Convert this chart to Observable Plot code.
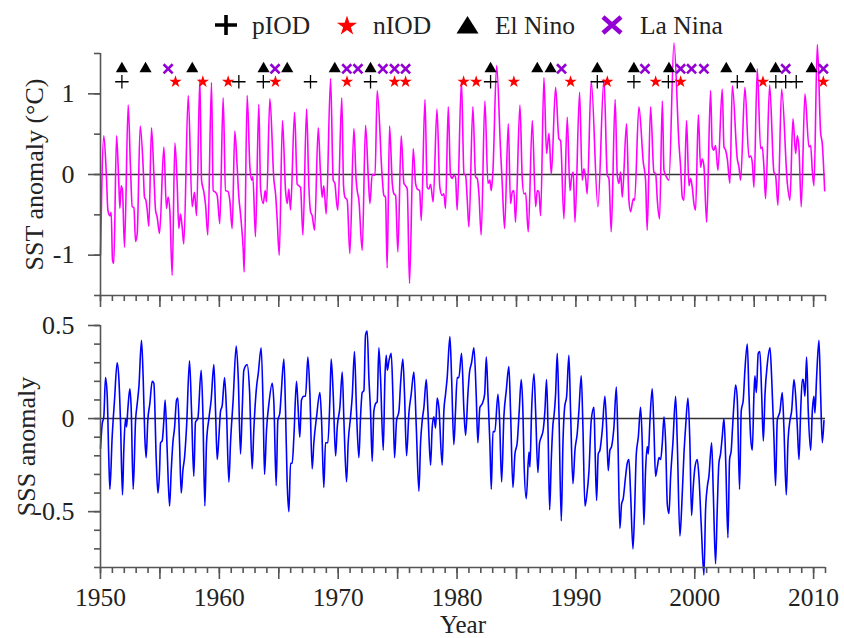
<!DOCTYPE html>
<html>
<head>
<meta charset="utf-8">
<script src="https://cdn.jsdelivr.net/npm/d3@7"></script>
<script src="https://cdn.jsdelivr.net/npm/@observablehq/plot@0.6"></script>
<style>
  html, body { margin: 0; padding: 0; background: #fff; }
  #figure { position: relative; width: 844px; height: 638px; }
  #figure > svg { position: absolute; left: 0; }
</style>
</head>
<body>
<div id="figure"></div>
<script>
// Monthly-resolution SST anomaly (°C): [decimal year, anomaly]
const sstSeries = [
  [1950.00,-1.00],[1950.28,0.48],[1950.50,-0.03],[1950.62,-0.44],[1950.79,-0.51],[1950.90,-0.47],[1951.01,-1.06],[1951.12,-1.10],
  [1951.35,0.48],[1951.54,-0.11],[1951.63,-0.42],[1951.74,-0.14],[1951.85,-0.20],[1952.02,-0.90],
  [1952.33,0.86],[1952.52,0.09],[1952.67,-0.40],[1952.81,-0.41],[1952.95,-0.83],[1953.09,-0.73],
  [1953.34,0.60],[1953.59,0.09],[1953.70,-0.28],[1953.82,-0.32],[1953.93,-0.44],[1954.07,-0.64],
  [1954.29,0.58],[1954.49,0.01],[1954.63,-0.44],[1954.77,-0.53],[1954.97,-0.73],
  [1955.33,0.34],[1955.55,-0.42],[1955.69,-0.28],[1955.84,-0.46],[1956.03,-1.25],
  [1956.26,0.39],[1956.45,-0.11],[1956.59,-0.67],[1956.73,-0.49],[1956.87,-0.65],[1957.01,-0.86],
  [1957.38,0.98],[1957.71,-0.40],[1957.91,-0.22],[1958.08,-0.51],
  [1958.36,1.18],[1958.50,-0.07],[1958.70,-0.22],[1958.84,-0.38],[1959.03,-0.75],
  [1959.34,1.14],[1959.48,-0.20],[1959.68,-0.22],[1959.82,-0.26],[1960.04,-0.61],
  [1960.32,0.95],[1960.52,-0.20],[1960.72,-0.21],[1960.88,-0.32],[1961.08,-0.67],
  [1961.30,0.54],[1961.50,0.09],[1961.64,-0.28],[1961.78,-0.49],[1962.01,-0.94],[1962.09,-1.21],
  [1962.34,0.98],[1962.57,0.09],[1962.71,-0.07],[1962.82,-0.03],[1963.04,-0.77],
  [1963.32,0.87],[1963.47,-0.18],[1963.69,-0.36],[1963.86,-0.20],[1963.97,-0.34],
  [1964.25,0.94],[1964.59,-0.07],[1964.73,-0.24],[1964.87,-0.57],[1965.04,-1.00],
  [1965.31,0.67],[1965.57,-0.20],[1965.71,-0.36],[1965.85,-0.18],[1965.99,-0.44],
  [1966.33,0.77],[1966.55,-0.12],[1966.69,-0.14],[1966.83,-0.16],[1967.03,-0.75],
  [1967.34,0.81],[1967.53,-0.14],[1967.67,-0.46],[1967.81,-0.51],[1968.01,-0.69],
  [1968.32,0.58],[1968.51,0.01],[1968.65,-0.28],[1968.79,-0.14],[1968.99,-0.49],
  [1969.36,1.19],[1969.58,-0.07],[1969.72,-0.11],[1969.86,-0.34],[1969.97,-0.44],
  [1970.30,0.95],[1970.45,-0.14],[1970.56,-0.28],[1970.76,-0.32],[1970.98,-0.98],
  [1971.32,0.57],[1971.51,-0.07],[1971.60,-0.20],[1971.74,-0.32],[1972.02,-0.94],
  [1972.30,0.61],[1972.53,-0.03],[1972.67,-0.36],[1972.86,0.00],[1973.10,-0.01],
  [1973.28,1.04],[1973.70,-0.03],[1973.84,-0.26],[1973.98,-0.28],[1974.12,-1.16],
  [1974.32,0.60],[1974.55,-0.11],[1974.69,-0.24],[1974.83,-0.26],[1975.02,-0.96],
  [1975.30,0.48],[1975.53,-0.11],[1975.67,-0.14],[1975.81,-0.18],[1976.00,-1.35],
  [1976.31,0.32],[1976.51,-0.11],[1976.65,-0.18],[1976.85,-0.20],[1976.99,-0.57],
  [1977.30,0.93],[1977.49,-0.16],[1977.63,-0.18],[1977.77,-0.12],[1977.99,-0.34],
  [1978.31,0.81],[1978.55,-0.16],[1978.75,-0.26],[1978.89,-0.24],[1979.03,-0.42],
  [1979.26,0.84],[1979.45,-0.01],[1979.59,-0.05],[1979.73,-0.01],[1979.87,-0.03],[1980.01,-0.44],
  [1980.37,1.16],[1980.58,0.01],[1980.72,-0.01],[1980.86,-0.32],[1981.00,-0.65],
  [1981.33,0.84],[1981.56,-0.03],[1981.70,-0.05],[1981.84,-0.24],[1982.03,-0.75],
  [1982.34,0.91],[1982.60,-0.11],[1982.76,-0.07],[1982.88,-0.20],[1983.02,0.05],
  [1983.33,1.35],[1983.66,0.30],[1983.80,-0.11],[1984.00,-0.67],
  [1984.31,0.63],[1984.50,-0.36],[1984.64,-0.22],[1984.78,-0.20],[1984.92,-0.59],
  [1985.29,0.86],[1985.48,-0.03],[1985.63,-0.24],[1985.77,-0.23],[1985.99,-0.71],
  [1986.33,0.67],[1986.61,-0.40],[1986.75,-0.20],[1986.89,-0.22],[1987.03,-0.51],
  [1987.31,1.20],[1987.53,0.26],[1987.73,0.51],[1987.93,0.00],
  [1988.29,1.08],[1988.57,0.44],[1988.71,0.42],[1988.99,-0.55],
  [1989.27,0.71],[1989.50,-0.20],[1989.64,-0.03],[1989.78,0.03],[1989.92,-0.59],
  [1990.31,1.02],[1990.53,-0.07],[1990.67,0.07],[1990.81,-0.03],[1990.95,-0.24],
  [1991.29,1.16],[1991.85,-0.40],
  [1992.36,1.18],[1992.64,-0.01],[1992.78,-0.05],[1992.97,-0.71],
  [1993.30,0.93],[1993.48,-0.01],[1993.62,-0.11],[1993.76,0.03],[1993.90,-0.28],
  [1994.26,0.63],[1994.46,-0.32],[1994.60,-0.46],[1994.83,-0.30],[1994.94,-0.32],
  [1995.30,0.84],[1995.67,0.15],[1995.86,-0.07],[1996.00,-0.69],
  [1996.28,0.84],[1996.56,0.03],[1996.71,0.01],[1996.85,-0.32],[1997.04,-0.55],
  [1997.27,0.91],[1997.41,0.05],[1997.55,-0.01],[1997.69,-0.05],[1997.83,-0.07],
  [1998.25,1.63],[1998.67,0.38],[1998.81,0.09],[1998.95,-0.28],[1999.09,-0.32],
  [1999.31,0.67],[1999.51,-0.14],[1999.65,-0.05],[1999.79,-0.16],[1999.93,-0.36],[2000.07,-0.44],
  [2000.30,0.74],[2000.49,0.09],[2000.63,0.19],[2000.77,0.11],[2001.00,-0.59],
  [2001.33,1.04],[2001.47,0.34],[2001.61,0.30],[2001.75,0.36],[2001.95,0.05],
  [2002.31,1.06],[2002.46,0.34],[2002.60,0.30],[2002.74,0.19],[2002.96,-0.11],
  [2003.16,1.10],[2003.58,0.19],[2003.72,0.09],[2003.86,-0.07],
  [2004.22,1.08],[2004.56,0.21],[2004.70,0.23],[2004.84,0.15],[2004.98,-0.16],
  [2005.26,1.31],[2005.54,0.32],[2005.68,0.34],[2005.82,0.09],[2005.96,-0.30],
  [2006.30,1.11],[2006.66,0.03],[2006.80,-0.01],[2007.00,-0.38],
  [2007.31,1.06],[2007.79,-0.11],[2008.01,-0.32],
  [2008.26,0.69],[2008.49,0.26],[2008.63,0.48],[2008.77,0.32],[2008.96,-0.40],
  [2009.27,1.00],[2009.61,0.34],[2009.75,0.36],[2009.89,0.05],[2010.03,-0.14],
  [2010.31,1.61],[2010.59,0.52],[2010.73,0.38],[2010.93,-0.20]
];

// Monthly-resolution SSS anomaly: [decimal year, anomaly]
const sssSeries = [
  [1950.00,-0.16],[1950.14,-0.03],[1950.28,0.01],[1950.42,0.22],[1950.56,0.13],[1950.70,-0.22],[1950.79,-0.38],
  [1950.98,-0.10],[1951.18,0.10],[1951.40,0.30],[1951.54,0.22],[1951.68,-0.01],[1951.85,-0.41],
  [1951.96,-0.17],[1952.10,0.00],[1952.19,-0.045],[1952.30,0.05],[1952.47,0.16],[1952.58,0.06],[1952.75,-0.38],
  [1952.95,-0.01],[1953.09,0.08],[1953.23,0.17],[1953.45,0.42],[1953.59,0.22],[1953.73,-0.10],[1953.84,-0.21],
  [1953.98,-0.01],[1954.15,0.08],[1954.35,0.20],[1954.49,0.19],[1954.69,-0.22],[1954.83,-0.40],
  [1954.97,-0.28],[1955.05,-0.13],[1955.19,-0.12],[1955.33,-0.01],[1955.44,0.10],[1955.61,-0.17],[1955.81,-0.47],
  [1955.95,-0.28],[1956.09,-0.13],[1956.23,-0.05],[1956.40,0.10],[1956.51,0.11],[1956.65,-0.13],[1956.79,-0.40],
  [1956.93,-0.28],[1957.07,-0.21],[1957.24,-0.045],[1957.49,0.31],[1957.66,0.04],[1957.85,-0.31],
  [1957.99,-0.02],[1958.19,0.00],[1958.47,0.26],[1958.61,0.04],[1958.78,-0.47],
  [1958.92,-0.13],[1959.12,0.00],[1959.31,0.10],[1959.54,0.29],[1959.68,0.04],[1959.82,-0.22],
  [1959.96,-0.10],[1960.10,0.04],[1960.24,0.07],[1960.44,0.22],[1960.60,0.04],[1960.80,-0.34],
  [1960.94,-0.13],[1961.16,0.10],[1961.42,0.39],[1961.59,0.22],[1961.78,-0.19],
  [1961.92,0.04],[1962.06,0.26],[1962.34,0.29],[1962.54,0.15],[1962.76,-0.27],
  [1962.90,-0.06],[1963.13,0.17],[1963.27,0.24],[1963.52,0.38],[1963.69,0.04],[1963.80,-0.30],
  [1963.97,-0.06],[1964.17,0.08],[1964.45,0.19],[1964.59,0.08],[1964.78,-0.36],
  [1964.92,-0.01],[1965.09,0.03],[1965.20,0.13],[1965.43,0.32],[1965.57,0.04],[1965.71,-0.35],[1965.85,-0.50],
  [1965.99,-0.24],[1966.13,-0.24],[1966.27,-0.10],[1966.49,0.20],[1966.61,0.08],[1966.77,-0.10],
  [1966.91,0.10],[1967.11,0.12],[1967.25,0.12],[1967.45,0.33],[1967.62,0.13],[1967.81,-0.27],
  [1967.95,-0.13],[1968.18,0.01],[1968.46,0.14],[1968.60,-0.01],[1968.79,-0.37],
  [1968.93,-0.13],[1969.13,-0.13],[1969.30,0.10],[1969.41,0.32],[1969.58,0.13],[1969.78,-0.20],
  [1969.92,-0.045],[1970.14,0.06],[1970.34,0.25],[1970.48,-0.01],[1970.70,-0.34],
  [1970.84,-0.13],[1971.04,0.01],[1971.18,0.12],[1971.37,0.36],[1971.54,0.04],[1971.74,-0.21],
  [1971.88,0.01],[1972.02,0.14],[1972.16,0.15],[1972.30,0.45],[1972.44,0.47],[1972.58,0.22],[1972.72,0.04],[1972.86,-0.23],
  [1973.00,0.04],[1973.14,0.08],[1973.28,0.09],[1973.42,0.38],[1973.56,0.22],[1973.79,-0.17],
  [1973.93,0.22],[1974.04,0.34],[1974.13,0.26],[1974.27,0.31],[1974.46,0.35],[1974.60,0.13],[1974.74,-0.21],
  [1974.91,-0.01],[1975.11,0.04],[1975.25,0.19],[1975.44,0.32],[1975.58,0.13],[1975.75,-0.20],
  [1975.95,0.03],[1976.14,0.13],[1976.37,0.25],[1976.57,-0.045],[1976.79,-0.39],
  [1976.93,-0.13],[1977.07,-0.01],[1977.21,0.06],[1977.41,0.21],[1977.55,0.04],[1977.77,-0.25],
  [1977.91,-0.045],[1978.05,0.01],[1978.19,-0.05],[1978.33,0.11],[1978.47,0.06],[1978.75,-0.25],
  [1978.89,0.04],[1979.03,0.13],[1979.17,0.22],[1979.40,0.44],[1979.54,0.22],[1979.73,-0.14],
  [1979.87,0.04],[1980.01,0.22],[1980.15,0.22],[1980.38,0.35],[1980.58,0.04],[1980.72,-0.09],
  [1980.91,0.13],[1981.05,0.25],[1981.22,0.30],[1981.42,0.38],[1981.61,0.13],[1981.75,-0.13],
  [1981.92,0.06],[1982.12,0.08],[1982.32,0.13],[1982.46,0.33],[1982.60,0.13],[1982.76,-0.13],[1982.88,-0.38],
  [1983.02,-0.07],[1983.18,-0.07],[1983.44,0.13],[1983.58,-0.01],[1983.75,-0.34],
  [1983.94,0.01],[1984.14,0.15],[1984.36,0.28],[1984.50,0.04],[1984.70,-0.37],
  [1984.87,-0.19],[1985.06,-0.13],[1985.23,0.04],[1985.40,0.21],[1985.54,0.04],[1985.63,-0.22],[1985.82,-0.43],
  [1986.05,-0.18],[1986.13,-0.26],[1986.27,0.04],[1986.47,0.24],[1986.61,0.04],[1986.80,-0.29],
  [1986.94,-0.13],[1987.08,-0.10],[1987.25,-0.06],[1987.39,0.04],[1987.53,0.21],[1987.65,-0.045],[1987.79,-0.49],
  [1987.93,-0.22],[1988.07,-0.03],[1988.15,0.01],[1988.29,0.13],[1988.43,0.35],[1988.57,0.04],[1988.77,-0.55],
  [1988.91,-0.13],[1989.05,0.06],[1989.22,0.12],[1989.41,0.34],[1989.55,0.04],[1989.75,-0.35],
  [1989.92,-0.17],[1990.11,-0.08],[1990.25,0.04],[1990.45,0.23],[1990.59,-0.045],[1990.76,-0.47],
  [1990.90,-0.42],[1991.10,-0.28],[1991.29,-0.01],[1991.52,0.06],[1991.60,-0.13],[1991.74,-0.44],
  [1991.88,-0.19],[1992.02,-0.17],[1992.22,-0.06],[1992.44,0.12],[1992.58,-0.045],[1992.72,-0.28],
  [1992.86,-0.17],[1993.00,-0.15],[1993.20,-0.045],[1993.40,0.17],[1993.54,-0.13],[1993.70,-0.59],
  [1993.84,-0.46],[1993.98,-0.43],[1994.18,-0.31],[1994.32,-0.24],[1994.46,-0.22],[1994.60,-0.40],[1994.80,-0.70],
  [1994.94,-0.49],[1995.08,-0.19],[1995.25,-0.10],[1995.44,0.06],[1995.58,-0.13],[1995.72,-0.57],
  [1995.86,-0.28],[1996.00,-0.15],[1996.09,-0.19],[1996.23,-0.01],[1996.42,0.16],[1996.56,-0.045],[1996.70,-0.31],
  [1996.85,-0.26],[1996.99,-0.21],[1997.13,-0.22],[1997.27,-0.13],[1997.41,0.01],[1997.55,-0.13],[1997.69,-0.46],[1997.83,-0.51],
  [1997.97,-0.31],[1998.16,-0.13],[1998.39,0.12],[1998.53,-0.13],[1998.75,-0.63],
  [1998.89,-0.49],[1999.09,-0.19],[1999.23,-0.045],[1999.43,0.11],[1999.59,-0.13],[1999.73,-0.52],
  [1999.87,-0.37],[2000.02,-0.26],[2000.21,-0.22],[2000.35,-0.31],[2000.55,-0.58],[2000.77,-0.84],
  [2000.91,-0.49],[2001.05,-0.37],[2001.19,-0.31],[2001.42,-0.13],[2001.56,-0.40],[2001.75,-0.78],
  [2001.89,-0.49],[2002.03,-0.24],[2002.17,-0.19],[2002.31,-0.10],[2002.46,0.00],[2002.60,-0.22],[2002.79,-0.64],
  [2002.93,-0.22],[2003.07,-0.17],[2003.16,-0.07],[2003.30,0.08],[2003.44,0.18],[2003.58,0.10],[2003.77,-0.38],
  [2003.91,0.04],[2004.08,0.10],[2004.22,0.26],[2004.42,0.40],[2004.56,0.13],[2004.70,-0.10],[2004.84,-0.17],
  [2004.98,0.13],[2005.06,0.23],[2005.18,0.14],[2005.34,0.35],[2005.48,0.36],[2005.63,0.13],[2005.77,-0.12],
  [2005.91,0.13],[2006.10,0.29],[2006.33,0.38],[2006.47,0.22],[2006.66,-0.10],[2006.80,-0.36],
  [2006.94,-0.01],[2007.17,0.04],[2007.36,0.14],[2007.50,-0.045],[2007.70,-0.41],
  [2007.84,-0.13],[2008.01,-0.01],[2008.15,0.04],[2008.35,0.21],[2008.49,0.12],[2008.63,-0.045],[2008.77,-0.22],
  [2008.91,0.04],[2009.05,0.21],[2009.13,0.21],[2009.27,0.12],[2009.41,0.33],[2009.55,0.04],[2009.75,-0.17],
  [2009.89,0.04],[2010.03,0.12],[2010.11,0.03],[2010.25,0.22],[2010.45,0.42],[2010.59,0.13],[2010.73,-0.13],[2010.87,-0.01]
];

// Climate event years (marker placed in the season of the event)
const elNinoYears = [1951.80, 1953.79, 1957.72, 1963.72, 1965.71, 1969.71, 1972.72, 1982.82, 1986.75, 1987.87,
                     1991.80, 1994.88, 1997.83, 2002.65, 2004.70, 2006.80, 2009.83];
const laNinaYears = [1955.69, 1964.69, 1970.72, 1971.66, 1973.76, 1974.74, 1975.67, 1988.79, 1995.81, 1998.81,
                     1999.73, 2000.77, 2007.65, 2010.82];
const pIODYears   = [1951.80, 1961.64, 1963.70, 1967.67, 1972.72, 1982.82, 1991.80, 1994.88, 1997.78, 2003.58,
                     2006.82, 2007.65, 2008.54];
const nIODYears   = [1956.31, 1958.61, 1960.74, 1964.72, 1970.74, 1974.74, 1975.67, 1980.55, 1981.61, 1984.78,
                     1989.55, 1992.64, 1996.71, 1998.81, 2005.74, 2010.82];

// Rows (in °C) on which the ENSO and IOD event markers sit
const ensoRow = 1.31;
const iodRow = 1.15;

// Axis ticks
const decadeLabels = [1950, 1960, 1970, 1980, 1990, 2000, 2010];
const sstTickLabels = [-1, 0, 1];
const sssTickLabels = [-0.5, 0, 0.5];

const serif = '"Liberation Serif", "Times New Roman", serif';
const axisColor = "#555";
const textColor = "#222";
const yearTicks = d3.range(1950, 2012);
const fiveYearTicks = d3.range(1950, 2012, 5);

const sst = sstSeries.map(([year, value]) => ({year, value}));
const sss = sssSeries.map(([year, value]) => ({year, value}));

const figure = document.getElementById("figure");

// Legend row above the panels
const legendSvg = d3.create("svg")
  .attr("width", 844).attr("height", 50)
  .style("top", "0px")
  .attr("font-family", serif).attr("font-size", 25.5).attr("fill", textColor);
const legendItems = [
  {label: "pIOD", cx: 226, tx: 252, kind: "plus"},
  {label: "nIOD", cx: 347, tx: 373, kind: "star"},
  {label: "El Nino", cx: 467.5, tx: 495, kind: "triangle"},
  {label: "La Nina", cx: 612, tx: 640, kind: "times"}
];
for (const item of legendItems) {
  const g = legendSvg.append("g").attr("transform", `translate(${item.cx},25)`);
  if (item.kind === "plus") {
    g.append("path").attr("d", "M-11,0H11M0,-10V10").attr("stroke", "#000").attr("stroke-width", 3.6).attr("fill", "none");
  } else if (item.kind === "star") {
    g.append("path").attr("d", d3.symbol(d3.symbolStar, 125)()).attr("transform", "translate(0,1)").attr("fill", "#ff0000");
  } else if (item.kind === "triangle") {
    g.append("path").attr("d", "M0,-9L11,8.5L-11,8.5Z").attr("fill", "#000");
  } else {
    g.append("path").attr("d", "M-9,-8L9,8M9,-8L-9,8").attr("stroke", "#9400d3").attr("stroke-width", 4.6).attr("fill", "none");
  }
  legendSvg.append("text").attr("x", item.tx).attr("y", 34).text(item.label);
}
figure.append(legendSvg.node());

const plotStyle = {background: "transparent", overflow: "visible", fontFamily: serif};

function yAxisMarks(minorTicks, majorTicks) {
  return [
    Plot.axisY({ticks: minorTicks, tickSize: 6, tickFormat: () => "", stroke: axisColor, strokeWidth: 1.6, label: null}),
    Plot.axisY({ticks: majorTicks, tickSize: 12, tickPadding: 14, tickFormat: d => String(d),
                fontSize: 26, fill: textColor, stroke: axisColor, strokeWidth: 1.6, label: null})
  ];
}
function xTickMarks() {
  return [
    Plot.axisX({ticks: yearTicks, tickSize: 6, tickFormat: () => "", stroke: axisColor, strokeWidth: 1.6, label: null}),
    Plot.axisX({ticks: fiveYearTicks, tickSize: 12, tickFormat: () => "", stroke: axisColor, strokeWidth: 1.6, label: null})
  ];
}

// Upper panel: SST anomaly with event markers
const sstPlot = Plot.plot({
  width: 844, height: 310,
  marginTop: 53, marginBottom: 15, marginLeft: 100, marginRight: 19,
  style: plotStyle,
  x: {domain: [1950, 2011], axis: null},
  y: {domain: [-1.5, 1.5], axis: null},
  marks: [
    Plot.ruleY([0], {stroke: "#333", strokeWidth: 1.5}),
    Plot.line(sst, {x: "year", y: "value", stroke: "#ff00ff", strokeWidth: 1.6, curve: "monotone-x"}),
    Plot.dot(elNinoYears, {x: d => d, y: () => ensoRow, symbol: "triangle", fill: "#000", r: 4.5}),
    Plot.dot(laNinaYears, {x: d => d, y: () => ensoRow, symbol: "times", stroke: "#9400d3", strokeWidth: 2.6, r: 4.2}),
    Plot.dot(pIODYears, {x: d => d, y: () => iodRow, symbol: "plus", stroke: "#000", strokeWidth: 1.3, r: 4.4}),
    Plot.dot(nIODYears, {x: d => d, y: () => iodRow, symbol: "star", fill: "#ff0000", r: 3.9}),
    Plot.ruleX([1950], {stroke: axisColor, strokeWidth: 1.6}),
    Plot.ruleY([-1.5], {stroke: axisColor, strokeWidth: 1.6}),
    ...yAxisMarks(d3.range(-3, 4).map(d => d / 2), sstTickLabels),
    ...xTickMarks(),
    Plot.text(["SST anomaly (°C)"], {text: d => d, frameAnchor: "left", dx: -66, rotate: -90,
                                     textAnchor: "middle", lineAnchor: "middle", fontSize: 26, fill: textColor})
  ]
});
sstPlot.style.top = "0px";
figure.append(sstPlot);

// Lower panel: SSS anomaly
const sssPlot = Plot.plot({
  width: 844, height: 338,
  marginTop: 25, marginBottom: 71, marginLeft: 100, marginRight: 19,
  style: plotStyle,
  x: {domain: [1950, 2011], axis: null},
  y: {domain: [-0.8, 0.5], axis: null},
  marks: [
    Plot.ruleY([0], {stroke: "#333", strokeWidth: 1.5}),
    Plot.line(sss, {x: "year", y: "value", stroke: "#0000ff", strokeWidth: 1.6, curve: "monotone-x"}),
    Plot.ruleX([1950], {stroke: axisColor, strokeWidth: 1.6}),
    Plot.ruleY([-0.8], {stroke: axisColor, strokeWidth: 1.6}),
    ...yAxisMarks(d3.range(-8, 6).map(d => d / 10), sssTickLabels),
    ...xTickMarks(),
    Plot.axisX({ticks: decadeLabels, tickSize: 0, tickPadding: 20, tickFormat: d => String(d),
                fontSize: 25.5, fill: textColor, label: null}),
    Plot.text(["SSS anomaly"], {text: d => d, frameAnchor: "left", dx: -74, rotate: -90,
                                textAnchor: "middle", lineAnchor: "middle", fontSize: 26, fill: textColor}),
    Plot.text(["Year"], {text: d => d, frameAnchor: "bottom", dy: 57.5, lineAnchor: "middle",
                         fontSize: 25, fill: textColor})
  ]
});
sssPlot.style.top = "300px";
figure.append(sssPlot);
</script>
</body>
</html>
